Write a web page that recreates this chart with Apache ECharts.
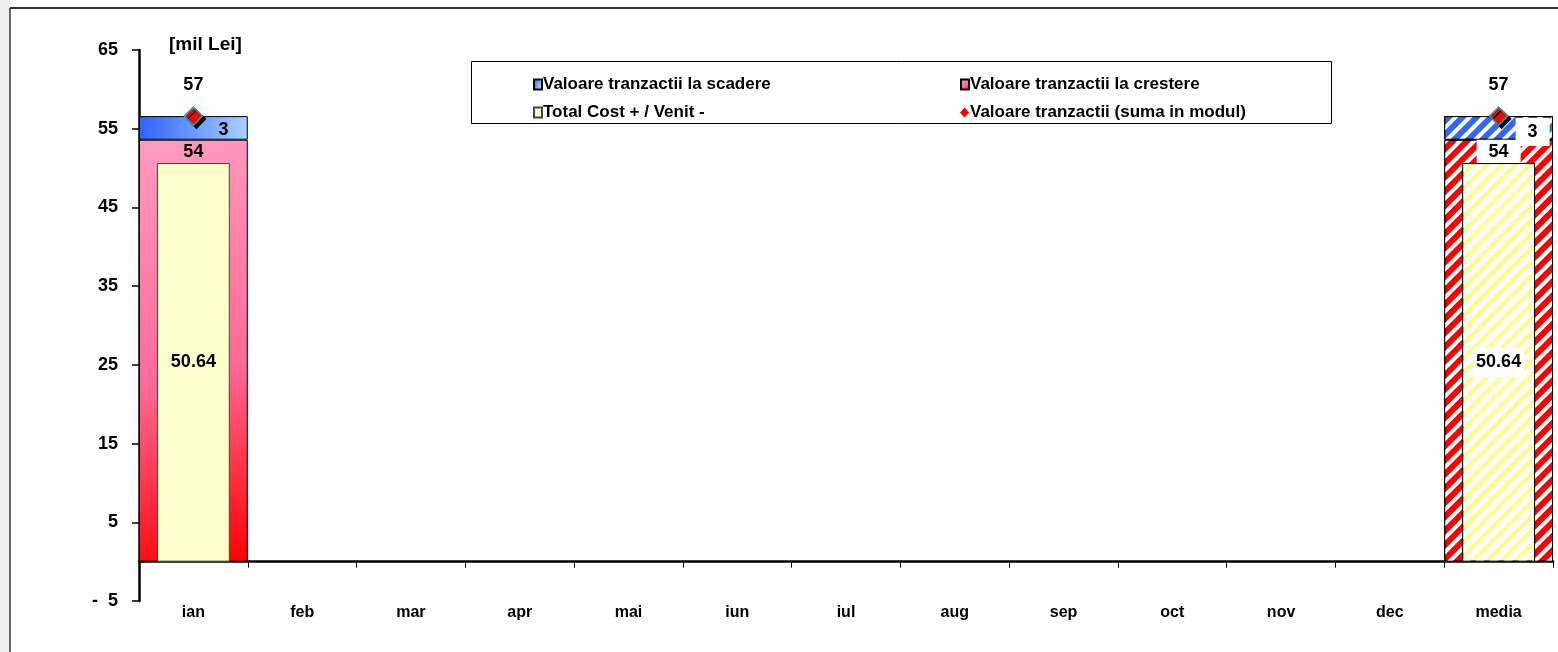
<!DOCTYPE html>
<html>
<head>
<meta charset="utf-8">
<script src="https://cdn.jsdelivr.net/npm/echarts@6/dist/echarts.min.js"></script>
<style>
  html, body { margin: 0; padding: 0; background: #fff; }
  #chart { width: 1558px; height: 652px; }
</style>
</head>
<body>
<div id="chart"></div>
<script>
// luni + media
var categories = ['ian', 'feb', 'mar', 'apr', 'mai', 'iun', 'iul', 'aug', 'sep', 'oct', 'nov', 'dec', 'media'];
var scadere = [3.0, null, null, null, null, null, null, null, null, null, null, null, 3.0];
var crestere = [53.6, null, null, null, null, null, null, null, null, null, null, null, 53.6];
var totalCost = [50.64, null, null, null, null, null, null, null, null, null, null, null, 50.64];
var sumaModul = [56.6, null, null, null, null, null, null, null, null, null, null, null, 56.6];

var seriesNames = [
  'Valoare tranzactii la scadere',
  'Valoare tranzactii la crestere',
  'Total Cost + / Venit -',
  'Valoare tranzactii (suma in modul)'
];

var FONT = 'Liberation Sans, Arial, sans-serif';

var redGrad = new echarts.graphic.LinearGradient(0, 0, 1, 1, [
  { offset: 0, color: '#ff9cc0' },
  { offset: 0.55, color: '#ff6a98' },
  { offset: 1, color: '#ff0000' }
]);
var blueGrad = new echarts.graphic.LinearGradient(0, 0, 1, 0.4, [
  { offset: 0, color: '#3060ff' },
  { offset: 1, color: '#a8d0ff' }
]);

function stripes(bg, stripe, on, off) {
  return {
    color: bg,
    borderColor: '#000',
    borderWidth: 1,
    decal: {
      symbol: 'rect',
      symbolSize: 1,
      dashArrayX: [1, 0],
      dashArrayY: [on, off],
      rotation: -Math.PI / 4,
      color: stripe
    }
  };
}

// the "media" column is hatched, months are gradients
function withMedia(arr, style, label) {
  return arr.map(function (v, i) {
    if (i === arr.length - 1 && v != null) {
      var o = { value: v, itemStyle: style };
      if (label) o.label = label;
      return o;
    }
    return v;
  });
}

function legendAt(name, left, top, icon, extra) {
  var l = {
    data: [{ name: name, icon: icon }],
    left: left, top: top,
    itemWidth: icon === 'diamond' ? 9 : 8, itemHeight: 10,
    selectedMode: false,
    textStyle: { fontFamily: FONT, fontWeight: 'bold', fontSize: 17, color: '#000', padding: [0, 0, 0, -4] }
  };
  if (extra) l.itemStyle = extra;
  return l;
}

var chart = echarts.init(document.getElementById('chart'));

var option = {
  backgroundColor: '#fff',
  animation: false,
  title: {
    text: '[mil Lei]',
    left: 164,
    top: 30,
    textStyle: { fontFamily: FONT, fontWeight: 'bold', fontSize: 19, color: '#000' }
  },
  graphic: [
    { type: 'rect', shape: { x: 0, y: 0, width: 10, height: 652 }, style: { fill: '#efefef' }, silent: true },
    { type: 'line', shape: { x1: 10, y1: 8, x2: 1558, y2: 8 }, style: { stroke: '#333', lineWidth: 2 }, silent: true },
    { type: 'line', shape: { x1: 10, y1: 8, x2: 10, y2: 652 }, style: { stroke: '#333', lineWidth: 1.5 }, silent: true },
    { type: 'rect', shape: { x: 471.5, y: 61.5, width: 860, height: 62 }, style: { fill: 'none', stroke: '#000', lineWidth: 1 }, silent: true }
  ],
  legend: [
    legendAt(seriesNames[0], 528, 71, 'rect'),
    legendAt(seriesNames[1], 955, 71, 'rect'),
    legendAt(seriesNames[2], 528, 99, 'rect'),
    legendAt(seriesNames[3], 955, 99, 'diamond', { color: '#ff0000', borderWidth: 0, shadowOffsetX: 0, shadowOffsetY: 0 })
  ],
  grid: { left: 139, right: 5, top: 50, bottom: 51, containLabel: false },
  xAxis: [
    {
      type: 'category',
      data: categories,
      boundaryGap: true,
      axisLine: { onZero: true, lineStyle: { color: '#000', width: 2.5 } },
      axisTick: { show: true, alignWithLabel: false, length: 6, lineStyle: { color: '#000', width: 1 } },
      axisLabel: { show: false }
    },
    {
      type: 'category',
      data: categories,
      position: 'bottom',
      axisLine: { show: false, onZero: false },
      axisTick: { show: false },
      axisLabel: { fontFamily: FONT, fontWeight: 'bold', fontSize: 16, color: '#000', margin: 4 }
    }
  ],
  yAxis: {
    type: 'value',
    min: -5,
    max: 65,
    interval: 10,
    axisLine: { show: true, lineStyle: { color: '#000', width: 2.5 } },
    axisTick: { show: true, length: 7, lineStyle: { color: '#000', width: 1.5 } },
    splitLine: { show: false },
    axisLabel: {
      fontFamily: FONT, fontWeight: 'bold', fontSize: 18, color: '#000', margin: 21,
      formatter: function (v) { return v < 0 ? '-  ' + (-v) : String(v); }
    }
  },
  series: [
    {
      name: seriesNames[1],
      type: 'bar',
      stack: 'tr',
      xAxisIndex: 0,
      barWidth: '100%',
      z: 2,
      itemStyle: { color: redGrad, borderColor: '#000', borderWidth: 1 },
      label: {
        show: true, position: 'insideTop', distance: 3,
        fontFamily: FONT, fontWeight: 'bold', fontSize: 18, color: '#000',
        formatter: function (p) { return Math.round(p.value); }
      },
      data: withMedia(crestere, stripes('#ff0000', '#ffffff', 4, 6),
        { backgroundColor: '#fff', padding: [3, 12, 4, 12], distance: 0 })
    },
    {
      name: seriesNames[0],
      type: 'bar',
      stack: 'tr',
      xAxisIndex: 0,
      barWidth: '100%',
      z: 2,
      itemStyle: { color: blueGrad, borderColor: '#000', borderWidth: 1 },
      label: {
        show: true, position: 'inside', offset: [30, 2],
        fontFamily: FONT, fontWeight: 'bold', fontSize: 18, color: '#000',
        formatter: function (p) { return Math.round(p.value); }
      },
      data: withMedia(scadere, stripes('#3366ff', '#ffffff', 4, 6),
        { backgroundColor: '#fff', padding: [5, 12, 5, 12], offset: [34, 4] })
    },
    {
      name: seriesNames[2],
      type: 'bar',
      xAxisIndex: 1,
      barWidth: '67%',
      z: 3,
      itemStyle: { color: '#ffffcc', borderColor: '#444', borderWidth: 1 },
      label: {
        show: true, position: 'inside',
        fontFamily: FONT, fontWeight: 'bold', fontSize: 18, color: '#000',
        formatter: function (p) { return p.value.toFixed(2); }
      },
      data: withMedia(totalCost, stripes('#ffff88', '#ffffff', 6, 4),
        { backgroundColor: '#fff', padding: [6, 3] })
    },
    {
      name: seriesNames[3],
      type: 'scatter',
      xAxisIndex: 0,
      symbol: 'diamond',
      symbolSize: 18,
      z: 5,
      itemStyle: {
        opacity: 1,
        color: '#ff0000', borderColor: '#3a9a9a', borderWidth: 1.5,
        shadowColor: '#000', shadowOffsetX: 3, shadowOffsetY: 3, shadowBlur: 0
      },
      label: {
        show: true, position: 'top', distance: 12,
        fontFamily: FONT, fontWeight: 'bold', fontSize: 18, color: '#000',
        formatter: function (p) { return Math.round(p.value[1] !== undefined ? p.value[1] : p.value); }
      },
      data: sumaModul
    }
  ]
};

chart.setOption(option);
</script>
</body>
</html>
